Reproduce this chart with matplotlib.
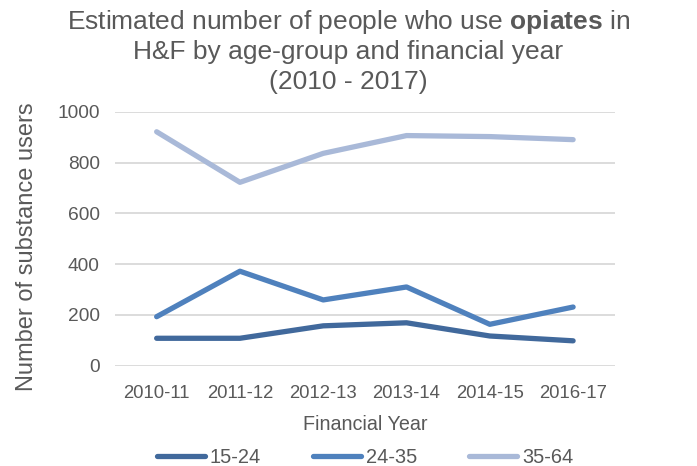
import matplotlib
matplotlib.use('Agg')
import matplotlib.pyplot as plt

plt.rcParams['font.family'] = ['Liberation Sans', 'DejaVu Sans']
plt.rcParams['mathtext.fontset'] = 'custom'
plt.rcParams['mathtext.rm'] = 'Liberation Sans'
plt.rcParams['mathtext.bf'] = 'Liberation Sans:bold'

# 연도별 / 연령대별 추정 사용자 수
years = ['2010-11', '2011-12', '2012-13', '2013-14', '2014-15', '2016-17']
age_15_24 = [108, 108, 157, 169, 117, 98]
age_24_35 = [193, 372, 259, 310, 163, 231]
age_35_64 = [921, 722, 836, 906, 902, 890]

series_names = ['15-24', '24-35', '35-64']
series_colors = ['#41699C', '#4F81BD', '#A9B9D8']

text_color = '#595959'

fig = plt.figure(figsize=(6.97, 4.66), dpi=100)
ax = fig.add_axes([0.165, 0.2152, 0.717, 0.5451])

x = range(len(years))
for vals, name, col in zip([age_15_24, age_24_35, age_35_64], series_names, series_colors):
    ax.plot(x, vals, color=col, lw=3.8, label=name, solid_capstyle='round', solid_joinstyle='round')

ax.set_xlim(-0.5, len(years) - 0.5)
ax.set_ylim(0, 1000)
ax.set_yticks(range(0, 1001, 200))
ax.set_xticks(list(x))
ax.set_xticklabels(years)

ax.grid(axis='y', color='#D9D9D9', lw=1.3)
ax.set_axisbelow(True)
for s in ax.spines.values():
    s.set_visible(False)
ax.tick_params(axis='both', length=0, colors=text_color, labelsize=13.3)
ax.tick_params(axis='y', pad=11, labelsize=13.8)
ax.tick_params(axis='x', pad=14)

ax.set_xlabel('Financial Year', color=text_color, fontsize=14.2, labelpad=9)
ax.set_ylabel('Number of substance users', color=text_color, fontsize=17)
ax.yaxis.set_label_coords(-0.155, 0.467)

fig.text(0.5, 0.953, r'Estimated number of people who use $\mathbf{opiates}$ in',
         ha='center', va='center', fontsize=19, color=text_color)
fig.text(0.5, 0.888, 'H&F by age-group and financial year',
         ha='center', va='center', fontsize=19, color=text_color)
fig.text(0.5, 0.824, '(2010 - 2017)',
         ha='center', va='center', fontsize=19, color=text_color)

leg = ax.legend(loc='center', bbox_to_anchor=(0.5, -0.36), ncol=3, frameon=False,
                fontsize=14.4, handlelength=2.4, handletextpad=0.25, columnspacing=2.6,
                labelcolor=text_color)
for h in leg.get_lines():
    h.set_linewidth(3.8)

fig.savefig('out.png', dpi=100)
